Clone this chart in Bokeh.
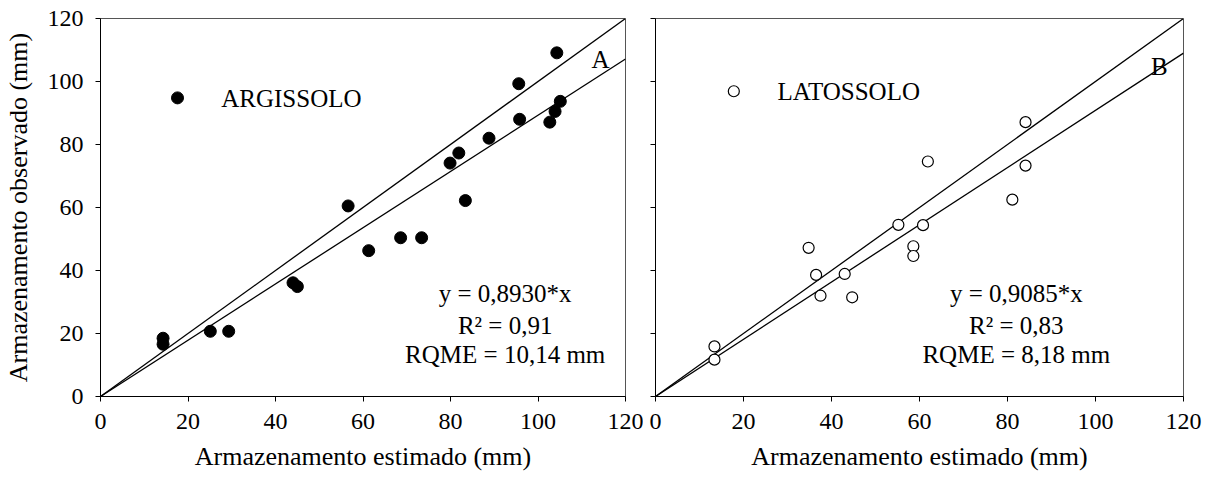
from bokeh.plotting import figure
from bokeh.layouts import row
from bokeh.models import Range1d, FixedTicker
from bokeh.core.properties import value
from bokeh.embed import file_html
from bokeh.resources import INLINE

# ---- data ----
arg_est = [14.3, 14.3, 25.1, 29.3, 44.0, 45.0, 56.6, 61.3, 68.6, 73.4, 83.4,
           79.9, 81.9, 88.8, 95.6, 95.8, 102.7, 103.9, 105.1, 104.3]
arg_obs = [18.5, 16.6, 20.7, 20.7, 36.1, 34.9, 60.5, 46.3, 50.4, 50.4, 62.2,
           74.1, 77.3, 82.0, 99.3, 88.0, 87.1, 90.5, 93.7, 109.1]
lat_est = [13.4, 13.4, 34.8, 36.5, 37.5, 43.0, 44.7, 55.2, 60.8, 58.6, 58.6,
           84.1, 84.1, 61.9, 81.1]
lat_obs = [15.9, 11.7, 47.2, 38.6, 32.0, 38.9, 31.5, 54.5, 54.4, 47.7, 44.6,
           87.1, 73.3, 74.6, 62.5]
slope_arg = 0.8930
slope_lat = 0.9085
line_x = [0, 120]
ticks = [0, 20, 40, 60, 80, 100, 120]

FONT = "Liberation Serif"


def make_fig(left_border, right_border, show_ylabels):
    p = figure(width=left_border + 528 + right_border, height=484,
               x_range=Range1d(0, 120), y_range=Range1d(0, 120),
               output_backend="svg", toolbar_location=None,
               min_border_left=left_border, min_border_right=right_border,
               min_border_top=18, min_border_bottom=88)
    p.grid.visible = False
    p.outline_line_color = "#555555"
    p.outline_line_width = 1
    p.background_fill_color = "white"
    p.border_fill_color = "white"
    for ax in (p.xaxis[0], p.yaxis[0]):
        ax.ticker = FixedTicker(ticks=ticks)
        ax.minor_tick_line_color = None
        ax.major_tick_in = 0
        ax.major_tick_out = 5
        ax.axis_line_color = "black"
        ax.major_tick_line_color = "black"
        ax.major_label_text_font = FONT
        ax.major_label_text_font_size = "24px"
        ax.major_label_text_color = "black"
        ax.axis_label_text_font = FONT
        ax.axis_label_text_font_size = "26px"
        ax.axis_label_text_font_style = "normal"
        ax.axis_label_text_color = "black"
        ax.major_label_standoff = 12
    p.xaxis.axis_label = "Armazenamento estimado (mm)"
    p.xaxis.axis_label_standoff = 10
    if show_ylabels:
        p.yaxis.axis_label = "Armazenamento observado (mm)"
        p.yaxis.axis_label_standoff = 12
    else:
        p.yaxis.major_label_text_color = None
        p.yaxis.major_label_text_font_size = "1px"
    return p


def txt(p, x, y, s, align="center", size="25px"):
    p.text(x=[x], y=[y], text=[s], text_font=value(FONT), text_font_size=size,
           text_align=align, text_baseline="middle", text_color="black")


# ---- left panel ----
p1 = make_fig(97, 18, True)
p1.line(line_x, line_x, line_color="black", line_width=1.3)
p1.line(line_x, [slope_arg * x for x in line_x], line_color="black", line_width=1.3)
p1.scatter(arg_est, arg_obs, size=12, marker="circle", fill_color="black",
           line_color="black")
p1.scatter([17.6], [94.8], size=12, marker="circle", fill_color="black",
           line_color="black")
txt(p1, 27.6, 94.7, "ARGISSOLO", align="left")
txt(p1, 114.3, 107.0, "A")
txt(p1, 92.5, 32.7, "y = 0,8930*x")
txt(p1, 92.5, 22.5, "R\u00b2 = 0,91")
txt(p1, 92.5, 13.3, "RQME = 10,14 mm")

# ---- right panel ----
p2 = make_fig(12, 27, False)
p2.line(line_x, line_x, line_color="black", line_width=1.3)
p2.line(line_x, [slope_lat * x for x in line_x], line_color="black", line_width=1.3)
p2.scatter(lat_est, lat_obs, size=11, marker="circle", fill_color="white",
           line_color="black", line_width=1.2)
p2.scatter([17.8], [96.9], size=11, marker="circle", fill_color="white",
           line_color="black", line_width=1.2)
txt(p2, 27.7, 96.9, "LATOSSOLO", align="left")
txt(p2, 114.5, 104.8, "B")
txt(p2, 82.0, 32.7, "y = 0,9085*x")
txt(p2, 82.0, 22.5, "R\u00b2 = 0,83")
txt(p2, 82.0, 13.3, "RQME = 8,18 mm")

layout = row(p1, p2, spacing=0)
open("out.html", "w").write(file_html(layout, INLINE))
